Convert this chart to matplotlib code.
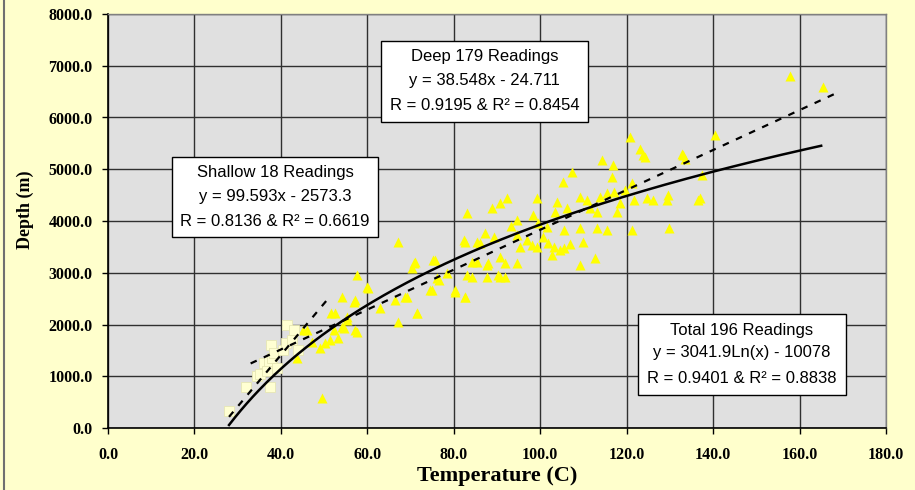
import numpy as np
import matplotlib.pyplot as plt
from matplotlib.patches import Rectangle
from matplotlib.lines import Line2D
from matplotlib.ticker import FormatStrFormatter

# Odczyty płytkie (kwadraty) - temperatura [C], głębokość [m]
shallow_temp = [28.0, 32.0, 34.5, 35.2, 36.0, 36.8, 37.2, 37.5, 37.7, 38.0,
                38.5, 39.0, 40.5, 41.2, 41.5, 42.5, 44.0, 43.0]
shallow_depth = [330, 800, 1000, 1050, 1250, 1100, 1300, 800, 1600, 1350,
                 1450, 1150, 1500, 1650, 2000, 1700, 1500, 1900]

# Odczyty głębokie (trójkąty)
deep_temp = [43.7, 45.2, 46.0, 47.1, 49.1, 50.2, 51.4, 52.2, 52.5, 53.3,
             54.1, 55.3, 56.8, 57.2, 49.5, 54.5, 57.6, 55.3, 57.2, 59.9,
             63.0, 67.2, 71.5, 68.8, 74.5, 76.5, 80.3, 82.6, 67.2, 71.1,
             75.3, 70.3, 82.6, 86.1, 87.7, 90.7, 114.3, 116.9, 107.3, 105.3,
             123.8, 133.1, 121.2, 92.3, 90.7, 88.8, 83.0, 99.2, 103.9, 109.3,
             110.8, 113.9, 115.4, 117.0, 118.5, 121.6, 124.7, 126.2, 129.3, 136.6,
             117.7, 103.5, 106.2, 94.6, 98.4, 99.6, 101.5, 109.3, 113.1, 115.4,
             121.2, 129.7, 105.4, 87.3, 89.2, 94.6, 96.9, 98.1, 99.2, 101.9,
             103.1, 104.6, 110.0, 109.3, 112.7, 82.3, 85.3, 90.7, 91.9, 94.6,
             88.0, 84.2, 83.0, 84.2, 87.7, 90.3, 91.9, 75.7, 70.7, 76.1,
             74.9, 80.3, 82.6, 69.1, 71.4, 157.7, 165.4, 140.5, 120.8, 123.1,
             124.3, 132.8, 133.6, 116.6, 129.6, 137.0, 137.4,
             51.6, 54.2, 57.6, 60.2, 66.4, 113.1, 105.4, 85.3,
             95.4, 100.6, 102.8, 106.8, 111.6, 119.6, 93.2, 78.4]
deep_depth = [1350, 1890, 1890, 1670, 1540, 1640, 1700, 1890, 2215, 1730,
              1960, 2090, 2440, 1890, 575, 1925, 1860, 2150, 2470, 2730,
              2310, 2050, 2215, 2540, 2670, 2860, 2670, 2540, 3600, 3210,
              3250, 3085, 3600, 3570, 3150, 2920, 5180, 5080, 4950, 4750,
              5270, 5270, 4730, 4440, 4350, 4245, 4150, 4440, 4370, 4470,
              4405, 4470, 4535, 4565, 4340, 4405, 4440, 4405, 4405, 4405,
              4180, 4180, 4245, 4020, 4115, 3955, 3890, 3860, 3860, 3825,
              3825, 3860, 3825, 3760, 3700, 3730, 3630, 3535, 3500, 3570,
              3500, 3440, 3600, 3150, 3280, 3630, 3600, 3310, 3180, 3180,
              3180, 3215, 2955, 2925, 2925, 2955, 2925, 3245, 3180, 2890,
              2665, 2635, 2540, 2540, 2215, 6800, 6580, 5660, 5630, 5385,
              5240, 5295, 5190, 4855, 4500, 4440, 4890,
              2220, 2530, 2955, 2705, 2475, 4180, 3470, 3215,
              3500, 3700, 3350, 3550, 4250, 4600, 3900, 3000]

# Linie trendu (z równań na wykresie)
shallow_fit = (99.593, -2573.3)
shallow_range = (28.0, 51.0)
deep_fit = (38.548, -24.711)
deep_range = (33.0, 169.0)
total_fit = (3041.9, -10078)
total_range = (28.0, 165.0)

x_ticks = np.arange(0, 181, 20)
y_ticks = np.arange(0, 8001, 1000)

W, H = 915, 490
BG = '#FFFFCC'


def px(x, y):
    # piksele obrazu -> ułamki figury
    return x / W, 1 - y / H


fig = plt.figure(figsize=(W / 100, H / 100), dpi=100, facecolor=BG)
ax = fig.add_axes([108 / W, 1 - 428 / H, (886 - 108) / W, (428 - 14) / H])
ax.set_facecolor('#E0E0E0')
ax.set_axisbelow(True)
ax.grid(True, color='#303030', lw=1.0)

ax.plot(deep_temp, deep_depth, '^', color='#FFFF00', ms=7, mec='none', zorder=3)
ax.plot(shallow_temp, shallow_depth, 's', color='#FFFFD2', ms=6.5,
        mec='#E6E6B4', mew=0.6, zorder=3)

xs = np.linspace(*shallow_range, 50)
ax.plot(xs, shallow_fit[0] * xs + shallow_fit[1], color='black', lw=1.6,
        dashes=(3, 3.5), zorder=4)
xd = np.linspace(*deep_range, 200)
ax.plot(xd, deep_fit[0] * xd + deep_fit[1], color='black', lw=1.6,
        dashes=(3, 3.5), zorder=4)
xt = np.linspace(*total_range, 300)
ax.plot(xt, total_fit[0] * np.log(xt) + total_fit[1], color='black', lw=1.8,
        zorder=4)

ax.set_xlim(0, 180)
ax.set_ylim(0, 8000)
ax.set_xticks(x_ticks)
ax.set_yticks(y_ticks)
ax.xaxis.set_major_formatter(FormatStrFormatter('%.1f'))
ax.yaxis.set_major_formatter(FormatStrFormatter('%.1f'))

serif = 'Liberation Serif'
ax.tick_params(direction='out', length=4, width=1, colors='black')
ax.tick_params(axis='x', pad=10)
ax.tick_params(axis='y', pad=7)
for lab in ax.get_xticklabels() + ax.get_yticklabels():
    lab.set_fontfamily(serif)
    lab.set_fontweight('bold')
    lab.set_fontsize(11.5)

for s in ['left', 'bottom']:
    ax.spines[s].set_color('black')
    ax.spines[s].set_linewidth(1.2)
for s in ['top', 'right']:
    ax.spines[s].set_color('#808080')
    ax.spines[s].set_linewidth(1.0)

fig.text(*px(497, 476), 'Temperature (C)', ha='center', va='center',
         family=serif, weight='bold', fontsize=16)
fig.text(*px(25, 210), 'Depth (m)', ha='center', va='center', rotation=90,
         family=serif, weight='bold', fontsize=13)

# ramka po lewej stronie obrazu
fig.add_artist(Line2D([4 / W, 4 / W], [0, 1], transform=fig.transFigure,
                      color='#707070', lw=1.5))


def add_box(x0, y0, x1, y1, lines):
    fx0, fy1 = px(x0, y0)
    fx1, fy0 = px(x1, y1)
    fig.add_artist(Rectangle((fx0, fy0), fx1 - fx0, fy1 - fy0,
                             transform=fig.transFigure, facecolor='white',
                             edgecolor='black', lw=1.0, zorder=5))
    cx = (x0 + x1) / 2
    for off, txt in zip((16, 39, 64), lines):
        fig.text(*px(cx, y0 + off), txt, ha='center', va='center',
                 family='Liberation Sans', fontsize=12, zorder=6)


add_box(381, 41, 588, 122, ['Deep 179 Readings', 'y = 38.548x - 24.711',
                            'R = 0.9195 & R² = 0.8454'])
add_box(172, 157, 378, 237, ['Shallow 18 Readings', 'y = 99.593x - 2573.3',
                             'R = 0.8136 & R² = 0.6619'])
add_box(638, 314, 846, 395, ['Total 196 Readings', 'y = 3041.9Ln(x) - 10078',
                             'R = 0.9401 & R² = 0.8838'])

fig.savefig('out.png', dpi=100, facecolor=BG)
